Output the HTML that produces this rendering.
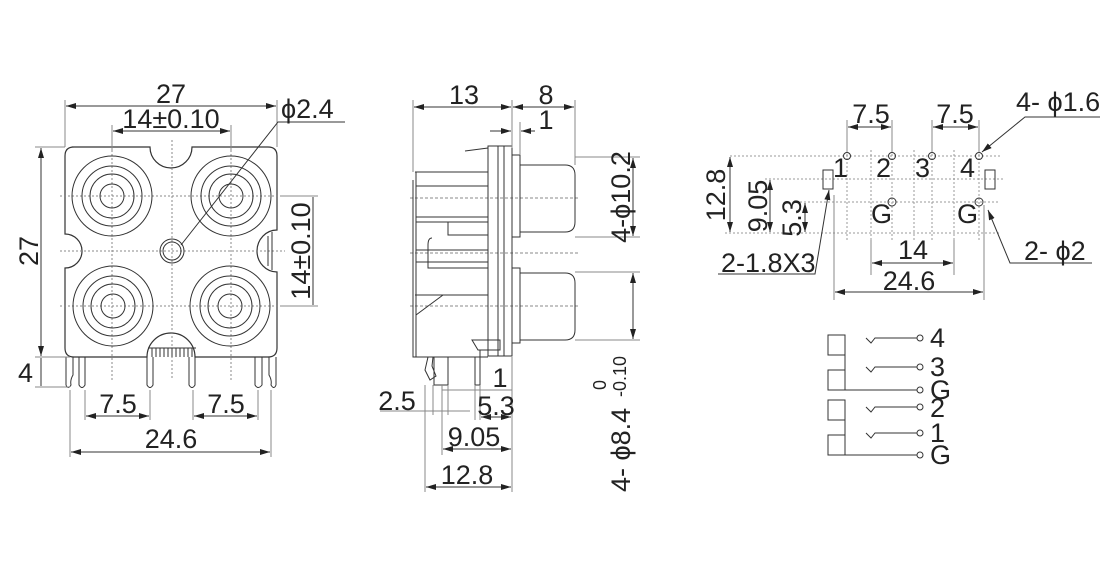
<!DOCTYPE html>
<html><head><meta charset="utf-8"><style>
html,body{margin:0;padding:0;background:#fff;width:1120px;height:582px;overflow:hidden}
svg{display:block}
text{font-family:"Liberation Sans",sans-serif;fill:#222}
.m{text-anchor:middle}
</style></head><body>
<svg width="1120" height="582" viewBox="0 0 1120 582" xmlns="http://www.w3.org/2000/svg">
<defs>
<marker id="a" viewBox="0 0 10 6" refX="10" refY="3" markerWidth="10" markerHeight="6" orient="auto-start-reverse" markerUnits="userSpaceOnUse"><path d="M0,0 L10,3 L0,6z" fill="#222"/></marker>
</defs>
<g fill="none" stroke="#333" stroke-width="1">
<path d="M72,147 H150 A21,21 0 0 0 192,147 H268 Q277,147 277,156 V230 A20,21 0 0 0 277,272 V348 Q277,357 268,357 H195 A24,24 0 0 0 147,357 H74 Q65,357 65,348 V268 A17,17 0 0 0 65,234 V156 Q65,147 74,147 Z" stroke-width="1.2"/>
<g stroke-dasharray="2,2" stroke="#888">
<line x1="60" y1="196" x2="285" y2="196"/><line x1="60" y1="251" x2="285" y2="251"/><line x1="60" y1="306" x2="285" y2="306"/>
<line x1="112" y1="130" x2="112" y2="380"/><line x1="172" y1="140" x2="172" y2="380"/><line x1="231" y1="130" x2="231" y2="380"/>
</g>
<g>
<circle cx="112" cy="196" r="40"/><circle cx="112" cy="196" r="30"/><circle cx="112" cy="196" r="22"/><circle cx="112" cy="196" r="12"/>
<circle cx="231" cy="196" r="40"/><circle cx="231" cy="196" r="30"/><circle cx="231" cy="196" r="22"/><circle cx="231" cy="196" r="12"/>
<circle cx="113" cy="306" r="40"/><circle cx="113" cy="306" r="30"/><circle cx="113" cy="306" r="22"/><circle cx="113" cy="306" r="12"/>
<circle cx="230" cy="306" r="40"/><circle cx="230" cy="306" r="30"/><circle cx="230" cy="306" r="22"/><circle cx="230" cy="306" r="12"/>
<circle cx="172" cy="251" r="12"/><circle cx="172" cy="251" r="9"/>
</g>
<path d="M268,236 V266 M272,232 V270" />
<path d="M148,348 H196 M152,348 V357 M156,348 V357 M160,348 V357 M164,348 V357 M168,348 V357 M172,348 V357 M176,348 V357 M180,348 V357 M184,348 V357 M188,348 V357 M192,348 V357"/>
<path d="M79,357 V385 Q82,390 85,385 V357"/>
<path d="M147,357 V385 Q150,390 153,385 V357"/>
<path d="M189,357 V385 Q192,390 195,385 V357"/>
<path d="M255,357 V385 Q258,390 262,385 V357"/>
<path d="M66,357 V385 Q68,390 71,385 Q70,380 73,375 V357"/>
<path d="M276,357 V385 Q274,390 271,385 Q272,380 269,375 V357"/>
<line x1="65" y1="100" x2="65" y2="147" stroke="#888"/><line x1="277" y1="100" x2="277" y2="147" stroke="#888"/>
<line x1="66" y1="106" x2="276" y2="106" marker-start="url(#a)" marker-end="url(#a)"/>
<line x1="112" y1="125" x2="112" y2="150" stroke="#888"/><line x1="231" y1="125" x2="231" y2="150" stroke="#888"/>
<line x1="113" y1="131" x2="230" y2="131" marker-start="url(#a)" marker-end="url(#a)"/>
<polyline points="181,245 278,122 345,122"/>
<line x1="35" y1="147" x2="65" y2="147" stroke="#888"/><line x1="35" y1="357" x2="70" y2="357" stroke="#888"/><line x1="35" y1="387" x2="70" y2="387" stroke="#888"/>
<line x1="41" y1="148" x2="41" y2="356" marker-start="url(#a)" marker-end="url(#a)"/>
<line x1="41" y1="358" x2="41" y2="386"/>
<line x1="280" y1="196" x2="318" y2="196" stroke="#888"/><line x1="280" y1="306" x2="318" y2="306" stroke="#888"/>
<line x1="313" y1="197" x2="313" y2="305"/>
<line x1="85" y1="390" x2="85" y2="420" stroke="#888"/><line x1="150" y1="390" x2="150" y2="420" stroke="#888"/>
<line x1="193" y1="390" x2="193" y2="420" stroke="#888"/><line x1="258" y1="390" x2="258" y2="420" stroke="#888"/>
<line x1="86" y1="416" x2="149" y2="416" marker-start="url(#a)" marker-end="url(#a)"/>
<line x1="194" y1="416" x2="257" y2="416" marker-start="url(#a)" marker-end="url(#a)"/>
<line x1="70" y1="390" x2="70" y2="457" stroke="#888"/><line x1="271" y1="390" x2="271" y2="457" stroke="#888"/>
<line x1="71" y1="452" x2="270" y2="452" marker-start="url(#a)" marker-end="url(#a)"/>

<g stroke-dasharray="3,2" stroke="#888"><line x1="410" y1="198" x2="580" y2="198"/><line x1="410" y1="253" x2="580" y2="253"/><line x1="410" y1="306" x2="580" y2="306"/></g>
<path d="M415,172 H488 M416,172 V357 M413,180 V357 H488 M416,186 H488 M416,217 H488 M416,222 H488 M416,250 H488 M416,262 H488 M415,295 L443,295 L488,295 M416,315 L443,295"/>
<path d="M448,222 V235 H488 M432,238 Q428,238 428,245 V268 H488"/>
<rect x="488" y="146" width="10" height="210"/><rect x="498" y="146" width="6" height="210"/><rect x="504" y="146" width="8" height="210"/>
<path d="M465,151 L488,148"/>
<rect x="512" y="155" width="8" height="82"/><rect x="512" y="268" width="8" height="75"/>
<path d="M520,165 H565 Q575,165 575,175 V222 Q575,232 565,232 H520"/>
<path d="M520,273 H565 Q575,273 575,283 V330 Q575,340 565,340 H520"/>
<path d="M472,340 H500 V350 H478 Z M480,350 V357"/>
<path d="M428,357 L425,370 L430,380 L436,376 L432,366 L433,357"/>
<path d="M434,357 V385 H448 V357"/>
<path d="M475,357 V385 H480 V357"/>
<line x1="413" y1="100" x2="413" y2="172" stroke="#888"/><line x1="512" y1="100" x2="512" y2="148" stroke="#888"/><line x1="575" y1="100" x2="575" y2="165" stroke="#888"/>
<line x1="414" y1="107" x2="511" y2="107" marker-start="url(#a)" marker-end="url(#a)"/>
<line x1="513" y1="107" x2="574" y2="107" marker-start="url(#a)" marker-end="url(#a)"/>
<line x1="520" y1="122" x2="520" y2="155" stroke="#888"/>
<line x1="490" y1="131" x2="511" y2="131" marker-end="url(#a)"/><line x1="535" y1="131" x2="521" y2="131" marker-end="url(#a)"/>
<line x1="575" y1="157" x2="640" y2="157" stroke="#888"/><line x1="575" y1="237" x2="640" y2="237" stroke="#888"/>
<line x1="633" y1="158" x2="633" y2="236" marker-start="url(#a)" marker-end="url(#a)"/>
<line x1="575" y1="272" x2="640" y2="272" stroke="#888"/><line x1="575" y1="340" x2="640" y2="340" stroke="#888"/>
<line x1="633" y1="273" x2="633" y2="339" marker-start="url(#a)" marker-end="url(#a)"/>
<line x1="425" y1="385" x2="425" y2="492" stroke="#888"/><line x1="433" y1="385" x2="433" y2="415" stroke="#888"/><line x1="448" y1="385" x2="448" y2="415" stroke="#888"/>
<line x1="380" y1="411" x2="470" y2="411" stroke="#888"/>
<line x1="442" y1="390" x2="512" y2="390" stroke="#888"/>
<line x1="475" y1="385" x2="475" y2="420" stroke="#888"/><line x1="480" y1="385" x2="480" y2="420" stroke="#888"/>
<line x1="442" y1="385" x2="442" y2="455" stroke="#888"/><line x1="512" y1="357" x2="512" y2="492" stroke="#888"/>
<line x1="481" y1="417" x2="511" y2="417" marker-start="url(#a)" marker-end="url(#a)"/>
<line x1="443" y1="449" x2="511" y2="449" marker-start="url(#a)" marker-end="url(#a)"/>
<line x1="426" y1="487" x2="511" y2="487" marker-start="url(#a)" marker-end="url(#a)"/>

<g stroke-dasharray="2,2" stroke="#999">
<line x1="730" y1="156" x2="1000" y2="156"/><line x1="765" y1="179" x2="1005" y2="179"/><line x1="800" y1="202" x2="1000" y2="202"/><line x1="725" y1="233" x2="1000" y2="233"/>
<line x1="847" y1="150" x2="847" y2="240"/><line x1="871" y1="150" x2="871" y2="240"/><line x1="892" y1="150" x2="892" y2="240"/><line x1="914" y1="150" x2="914" y2="240"/><line x1="932" y1="150" x2="932" y2="240"/><line x1="954" y1="150" x2="954" y2="240"/><line x1="979" y1="150" x2="979" y2="240"/>
</g>
<circle cx="847" cy="156" r="3.5"/><circle cx="892" cy="156" r="3.5"/><circle cx="932" cy="156" r="3.5"/><circle cx="979" cy="156" r="3.5"/>
<circle cx="892" cy="202" r="4"/><circle cx="979" cy="202" r="4"/>
<rect x="823" y="170" width="10" height="19"/><rect x="985" y="170" width="10" height="19"/>
<line x1="847" y1="120" x2="847" y2="152" stroke="#888"/><line x1="892" y1="120" x2="892" y2="152" stroke="#888"/>
<line x1="932" y1="120" x2="932" y2="152" stroke="#888"/><line x1="979" y1="120" x2="979" y2="152" stroke="#888"/>
<line x1="848" y1="127" x2="891" y2="127" marker-start="url(#a)" marker-end="url(#a)"/>
<line x1="933" y1="127" x2="978" y2="127" marker-start="url(#a)" marker-end="url(#a)"/>
<line x1="730" y1="157" x2="730" y2="232" marker-start="url(#a)" marker-end="url(#a)"/>
<line x1="770" y1="180" x2="770" y2="232" marker-start="url(#a)" marker-end="url(#a)"/>
<line x1="805" y1="203" x2="805" y2="232" marker-start="url(#a)" marker-end="url(#a)"/>
<line x1="871" y1="240" x2="871" y2="275" stroke="#888"/><line x1="954" y1="240" x2="954" y2="275" stroke="#888"/>
<line x1="872" y1="263" x2="953" y2="263" marker-start="url(#a)" marker-end="url(#a)"/>
<line x1="834" y1="195" x2="834" y2="300" stroke="#888"/><line x1="984" y1="205" x2="984" y2="300" stroke="#888"/>
<line x1="835" y1="292" x2="983" y2="292" marker-start="url(#a)" marker-end="url(#a)"/>
<polyline points="718,274 815,274 829,190" marker-end="url(#a)"/>
<polyline points="1100,117 1025,117 982,152" marker-end="url(#a)"/>
<polyline points="1092,263 1010,263 988,210" marker-end="url(#a)"/>
<rect x="828" y="335" width="17" height="20"/><rect x="828" y="370" width="17" height="20"/><rect x="828" y="400" width="17" height="20"/><rect x="828" y="435" width="17" height="20"/>
<path d="M845,335 V390 H917 M845,400 V455 H917"/>
<path d="M866,338 L871,343 L875,338 H917 M866,367 L871,372 L875,367 H917 M866,407 L871,412 L875,407 H917 M866,433 L871,438 L875,433 H917"/>
<circle cx="920" cy="338" r="3"/><circle cx="920" cy="367" r="3"/><circle cx="920" cy="390" r="3"/><circle cx="920" cy="407" r="3"/><circle cx="920" cy="433" r="3"/><circle cx="920" cy="455" r="3"/>
</g>
<g font-size="27">
<text class="m" x="171" y="103">27</text>
<text class="m" x="171" y="128">14±0.10</text>
<text x="281" y="118">ϕ2.4</text>
<text class="m" transform="translate(38,251) rotate(-90)">27</text>
<text x="18" y="382">4</text>
<text class="m" transform="translate(310,251) rotate(-90)">14±0.10</text>
<text class="m" x="118" y="413">7.5</text>
<text class="m" x="226" y="413">7.5</text>
<text class="m" x="171" y="448">24.6</text>
<text class="m" x="464" y="104">13</text>
<text class="m" x="546" y="104">8</text>
<text class="m" x="546" y="129">1</text>
<text class="m" transform="translate(630,197) rotate(-90)">4-ϕ10.2</text>
<text transform="translate(630,492) rotate(-90)">4- ϕ8.4</text>
<text transform="translate(626,397) rotate(-90)" font-size="18">-0.10</text>
<text transform="translate(606,390) rotate(-90)" font-size="18">0</text>
<text class="m" x="500" y="387">1</text>
<text class="m" x="397" y="410">2.5</text>
<text class="m" x="496" y="415">5.3</text>
<text class="m" x="474" y="446">9.05</text>
<text class="m" x="467" y="484">12.8</text>
<text class="m" x="871" y="123">7.5</text>
<text class="m" x="955" y="123">7.5</text>
<text x="1016" y="111">4- ϕ1.6</text>
<text x="833" y="177">1</text>
<text x="876" y="177">2</text>
<text x="915" y="177">3</text>
<text x="960" y="177">4</text>
<text x="871" y="223">G</text>
<text x="957" y="223">G</text>
<text class="m" transform="translate(725,195) rotate(-90)">12.8</text>
<text class="m" transform="translate(767,206) rotate(-90)">9.05</text>
<text class="m" transform="translate(801,218) rotate(-90)">5.3</text>
<text class="m" x="913" y="259">14</text>
<text class="m" x="909" y="290">24.6</text>
<text x="721" y="272">2-1.8X3</text>
<text x="1024" y="260">2- ϕ2</text>
<text x="930" y="347">4</text>
<text x="930" y="376">3</text>
<text x="930" y="399">G</text>
<text x="930" y="417">2</text>
<text x="930" y="442">1</text>
<text x="930" y="464">G</text>
</g>
</svg>
</body></html>
